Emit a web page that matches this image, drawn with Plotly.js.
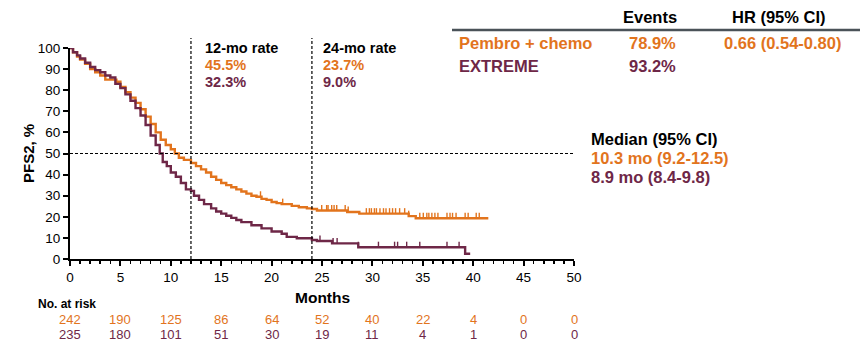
<!DOCTYPE html>
<html>
<head>
<meta charset="utf-8">
<script src="https://cdn.plot.ly/plotly-3.0.1.min.js"></script>
<style>
  html, body { margin: 0; padding: 0; background: #fff; }
  #chart { width: 866px; height: 341px; }
</style>
</head>
<body>
<div id="chart"></div>
<script>
// Kaplan-Meier step points (months, % progression-free after next line)
const pembroTime = [0, 0.3, 0.7, 1, 1.5, 2, 2.5, 3, 3.5, 4.6, 5, 5.5, 6, 6.5, 7, 7.5, 8, 8.5, 9, 9.5, 10, 10.4, 10.8, 11.3, 12, 12.5, 13, 13.5, 14, 14.5, 15, 15.5, 16, 16.5, 17, 17.5, 18, 18.5, 19, 19.5, 20, 20.5, 21, 22, 22.7, 23.5, 24, 24.5, 27.5, 28.7, 33.6, 34.3, 41.5];
const pembroSurv = [100, 98, 96, 94.5, 92.5, 90, 88.5, 87, 85, 84, 81.5, 79, 76.5, 74, 71, 67.5, 64, 60, 56.5, 54, 52, 50, 48, 47, 45.5, 44, 42.5, 41, 39, 37.5, 36, 35, 34, 33, 32, 31, 30, 29.5, 28.5, 28, 27, 26.5, 26, 25.2, 24.5, 24, 23.7, 23, 22.3, 21.5, 20.3, 19.3, 19.3];

const extremeTime = [0, 0.3, 0.7, 1, 1.5, 2, 2.5, 3, 3.5, 4, 4.5, 5, 5.5, 6, 6.5, 7, 7.5, 8, 8.5, 8.9, 9.2, 9.6, 10, 10.5, 11, 11.5, 12, 12.3, 12.8, 13.3, 14, 14.5, 15, 15.5, 16, 16.5, 17, 18, 19, 20, 21, 21.5, 22.5, 24, 24.5, 26, 28.6, 39.2, 39.7];
const extremeSurv = [100, 98, 96.5, 95, 93, 91, 89.5, 88.5, 87, 86, 83, 81, 78, 75, 71.5, 68, 63.5, 58.5, 54, 50, 46, 44, 41, 39, 36, 33, 32.3, 30, 28, 26, 24, 22.5, 21.5, 20.5, 19.5, 18.5, 17.5, 16, 14.5, 13, 12, 10.5, 9.8, 9, 8.5, 7.4, 5.6, 2.5, 2.5];

// Censoring times
const pembroCensor = [18.9, 21.1, 24.97, 25.46, 25.6, 25.96, 26.2, 26.46, 27.3, 27.6, 29.4, 29.7, 29.9, 30.2, 30.4, 30.75, 31.1, 31.35, 31.7, 32.0, 32.3, 32.7, 33.2, 33.6, 34.7, 35.05, 35.4, 35.6, 35.9, 36.2, 36.5, 37.4, 37.7, 37.95, 38.3, 39.2, 39.5, 40.3, 40.6];
const extremeCensor = [24.8, 26.1, 26.5, 28.6, 30.6, 32.2, 32.5, 33.4, 34.7, 37.4, 38.6];

// Number at risk
const riskTimes = [0, 5, 10, 15, 20, 25, 30, 35, 40, 45, 50];
const pembroRisk = [242, 190, 125, 86, 64, 52, 40, 22, 4, 0, 0];
const extremeRisk = [235, 180, 101, 51, 30, 19, 11, 4, 1, 0, 0];

// Landmark rates and summary stats
const landmarkMonths = [12, 24];
const pembroRates = ['45.5%', '23.7%'];
const extremeRates = ['32.3%', '9.0%'];
const armNames = ['Pembro + chemo', 'EXTREME'];
const eventRates = ['78.9%', '93.2%'];
const hazardRatio = '0.66 (0.54-0.80)';
const medians = ['10.3 mo (9.2-12.5)', '8.9 mo (8.4-9.8)'];

const ORANGE = '#E2741D';
const PLUM = '#6E2747';
const FONT = 'Liberation Sans, Arial, sans-serif';

function stepValue(times, surv, t) {
  let v = surv[0];
  for (let i = 0; i < times.length; i++) {
    if (times[i] <= t) v = surv[i]; else break;
  }
  return v;
}

function curve(times, surv, color) {
  return {
    x: times, y: surv, type: 'scatter', mode: 'lines',
    line: { shape: 'hv', color: color, width: 2.4 },
    hoverinfo: 'skip', cliponaxis: false
  };
}

function censorMarks(cens, times, surv, color) {
  return {
    x: cens, y: cens.map(t => stepValue(times, surv, t)),
    type: 'scatter', mode: 'markers',
    marker: { size: 1, color: color, opacity: 0 },
    error_y: { type: 'constant', symmetric: false, value: 2.6, valueminus: 0, width: 0, thickness: 1.4, color: color },
    hoverinfo: 'skip', cliponaxis: false
  };
}

const data = [
  curve(pembroTime, pembroSurv, ORANGE),
  curve(extremeTime, extremeSurv, PLUM),
  censorMarks(pembroCensor, pembroTime, pembroSurv, ORANGE),
  censorMarks(extremeCensor, extremeTime, extremeSurv, PLUM)
];

const px = v => (v - 70) / 504;   // page x -> paper
const py = v => (259 - v) / 211;  // page y -> paper

const annotations = [];
function note(text, x, y, size, color, opts) {
  annotations.push(Object.assign({
    text: text, x: x, y: y, xref: 'paper', yref: 'paper',
    showarrow: false, xanchor: 'left', yanchor: 'middle',
    font: { family: FONT, size: size, color: color }
  }, opts || {}));
}

// Landmark rate labels
const rateLeft = [203, 321];
landmarkMonths.forEach((m, i) => {
  note('<b>' + m + '-mo rate</b>', px(rateLeft[i]), py(48), 14.5, '#000');
  note('<b>' + pembroRates[i] + '</b>', px(rateLeft[i]), py(65), 14.5, ORANGE);
  note('<b>' + extremeRates[i] + '</b>', px(rateLeft[i]), py(82), 14.5, PLUM);
});

// Summary table
note('<b>Events</b>', px(650), py(17), 16.5, '#000', { xanchor: 'center' });
note('<b>HR (95% CI)</b>', px(779), py(17), 16.5, '#000', { xanchor: 'center' });
const armColors = [ORANGE, PLUM];
const rowY = [43, 66];
armNames.forEach((n, i) => {
  note('<b>' + n + '</b>', px(457), py(rowY[i]), 16.5, armColors[i]);
  note('<b>' + eventRates[i] + '</b>', px(627), py(rowY[i]), 16.5, armColors[i]);
});
note('<b>' + hazardRatio + '</b>', px(722), py(43), 16.5, ORANGE);

// Medians
note('<b>Median (95% CI)</b>', px(589), py(139), 16.5, '#000');
note('<b>' + medians[0] + '</b>', px(589), py(158), 16.5, ORANGE);
note('<b>' + medians[1] + '</b>', px(589), py(177), 16.5, PLUM);

// Axis titles
note('<b>PFS2, %</b>', px(28), py(154), 15, '#000', { xanchor: 'center', textangle: -90 });
note('<b>Months</b>', px(322), py(297), 15.5, '#000', { xanchor: 'center' });

// Risk table
note('<b>No. at risk</b>', px(36), py(304), 12, '#000');
riskTimes.forEach((t, i) => {
  annotations.push({ text: String(pembroRisk[i]), x: t, y: py(319), xref: 'x', yref: 'paper', showarrow: false, xanchor: 'center', yanchor: 'middle', font: { family: FONT, size: 13, color: ORANGE } });
  annotations.push({ text: String(extremeRisk[i]), x: t, y: py(334), xref: 'x', yref: 'paper', showarrow: false, xanchor: 'center', yanchor: 'middle', font: { family: FONT, size: 13, color: PLUM } });
});

const shapes = [
  { type: 'line', xref: 'x', yref: 'y', x0: 0, x1: 50.4, y0: 50, y1: 50, line: { color: '#000', width: 1.2, dash: '3px,2px' } },
  { type: 'line', xref: 'paper', yref: 'paper', x0: px(452), x1: px(860), y0: py(30), y1: py(30), line: { color: '#4a5258', width: 2.5 } }
];
landmarkMonths.forEach(m => {
  shapes.push({ type: 'line', xref: 'x', yref: 'paper', x0: m, x1: m, y0: 0, y1: py(38), line: { color: '#000', width: 1.2, dash: '3px,2px' } });
});

const layout = {
  width: 866, height: 341,
  margin: { l: 70, r: 292, t: 48, b: 82 },
  paper_bgcolor: '#fff', plot_bgcolor: '#fff',
  showlegend: false,
  font: { family: FONT, size: 13, color: '#000' },
  xaxis: {
    range: [0, 50], dtick: 5, tick0: 0, showgrid: false, zeroline: false,
    showline: true, linecolor: '#000', linewidth: 2,
    ticks: 'outside', ticklen: 5, tickwidth: 2, tickcolor: '#000',
    minor: { dtick: 1, ticks: 'outside', ticklen: 3, tickwidth: 1.5, tickcolor: '#000', showgrid: false },
    tickfont: { family: FONT, size: 13.5, color: '#000' }, fixedrange: true
  },
  yaxis: {
    range: [0, 100], dtick: 10, showgrid: false, zeroline: false,
    showline: true, linecolor: '#000', linewidth: 2,
    ticks: 'outside', ticklen: 5, tickwidth: 2, tickcolor: '#000',
    tickfont: { family: FONT, size: 13.5, color: '#000' }, fixedrange: true
  },
  shapes: shapes,
  annotations: annotations
};

Plotly.newPlot('chart', data, layout, { displayModeBar: false, staticPlot: true });
</script>
</body>
</html>
